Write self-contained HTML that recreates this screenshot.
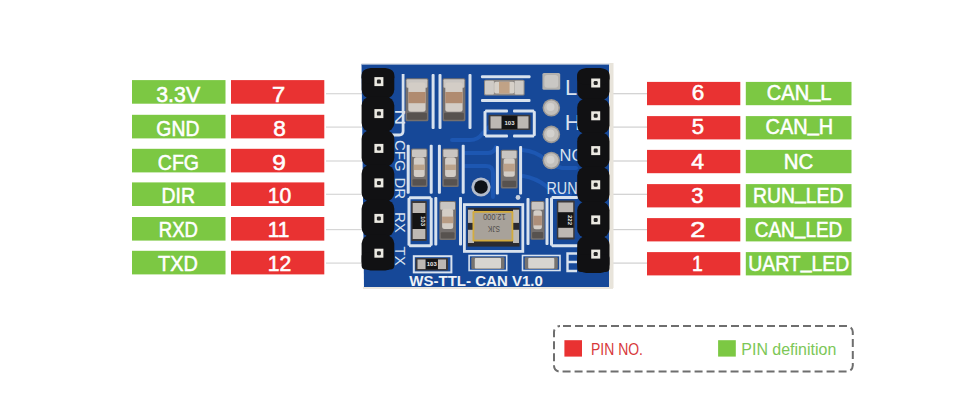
<!DOCTYPE html>
<html><head><meta charset="utf-8"><style>
html,body{margin:0;padding:0;background:#fff;width:960px;height:404px;overflow:hidden}
svg{display:block}
.lb{font-family:"Liberation Sans",sans-serif;font-size:21.4px;fill:#fff;stroke:#fff;stroke-width:0.55}
.lg{font-family:"Liberation Sans",sans-serif;font-size:16px}
.sk{font-family:"Liberation Sans",sans-serif;font-size:16.5px;fill:#d8e2ee}
.skL{font-family:"Liberation Sans",sans-serif;font-size:22px;fill:#d8e2ee}
.sk2{font-family:"Liberation Sans",sans-serif;font-size:15px;fill:#d8e2ee}
.rt{font-family:"Liberation Sans",sans-serif;font-size:6px;font-weight:bold;fill:#e8e8e8}
.xt{font-family:"Liberation Sans",sans-serif;font-size:9.5px;fill:#4f4c48}
.tt{font-family:"Liberation Sans",sans-serif;font-size:14.5px;font-weight:bold;fill:#eef2f7}
</style></head><body>
<svg width="960" height="404" viewBox="0 0 960 404">
<rect x="326" y="93.10" width="38" height="1.2" fill="#d6d6d6"/>
<rect x="132" y="80.10" width="93.50" height="23.6" fill="#7cc843"/>
<text x="156.26" y="101.90" textLength="43.86" lengthAdjust="spacingAndGlyphs" class="lb">3.3V</text>
<rect x="231" y="80.10" width="93.30" height="23.6" fill="#e93232"/>
<text x="272.05" y="101.90" textLength="13.21" lengthAdjust="spacingAndGlyphs" class="lb">7</text>
<rect x="326" y="126.50" width="38" height="1.2" fill="#d6d6d6"/>
<rect x="132" y="114.80" width="93.50" height="23.6" fill="#7cc843"/>
<text x="156.37" y="135.70" textLength="43.05" lengthAdjust="spacingAndGlyphs" class="lb">GND</text>
<rect x="231" y="114.80" width="93.30" height="23.6" fill="#e93232"/>
<text x="273.26" y="135.70" textLength="12.58" lengthAdjust="spacingAndGlyphs" class="lb">8</text>
<rect x="326" y="160.40" width="38" height="1.2" fill="#d6d6d6"/>
<rect x="132" y="148.80" width="93.50" height="23.6" fill="#7cc843"/>
<text x="157.84" y="169.50" textLength="41.21" lengthAdjust="spacingAndGlyphs" class="lb">CFG</text>
<rect x="231" y="148.80" width="93.30" height="23.6" fill="#e93232"/>
<text x="272.25" y="169.50" textLength="13.59" lengthAdjust="spacingAndGlyphs" class="lb">9</text>
<rect x="326" y="193.70" width="38" height="1.2" fill="#d6d6d6"/>
<rect x="132" y="182.40" width="93.50" height="23.6" fill="#7cc843"/>
<text x="161.51" y="203.30" textLength="33.40" lengthAdjust="spacingAndGlyphs" class="lb">DIR</text>
<rect x="231" y="182.40" width="93.30" height="23.6" fill="#e93232"/>
<text x="267.80" y="203.30" textLength="23.50" lengthAdjust="spacingAndGlyphs" class="lb">10</text>
<rect x="326" y="229.00" width="38" height="1.2" fill="#d6d6d6"/>
<rect x="132" y="217.00" width="93.50" height="23.6" fill="#7cc843"/>
<text x="158.81" y="237.10" textLength="39.12" lengthAdjust="spacingAndGlyphs" class="lb">RXD</text>
<rect x="231" y="217.00" width="93.30" height="23.6" fill="#e93232"/>
<text x="267.81" y="237.10" textLength="21.67" lengthAdjust="spacingAndGlyphs" class="lb">11</text>
<rect x="326" y="262.50" width="38" height="1.2" fill="#d6d6d6"/>
<rect x="132" y="250.80" width="93.50" height="23.6" fill="#7cc843"/>
<text x="158.09" y="270.90" textLength="39.83" lengthAdjust="spacingAndGlyphs" class="lb">TXD</text>
<rect x="231" y="250.80" width="93.30" height="23.6" fill="#e93232"/>
<text x="267.80" y="270.90" textLength="23.50" lengthAdjust="spacingAndGlyphs" class="lb">12</text>
<rect x="608" y="93.10" width="40" height="1.2" fill="#d0d0d0"/>
<rect x="647" y="81.90" width="93.30" height="23.3" fill="#e93232"/>
<text x="691.74" y="100.30" textLength="12.52" lengthAdjust="spacingAndGlyphs" class="lb">6</text>
<rect x="745.8" y="81.90" width="105.70" height="23.3" fill="#7cc843"/>
<text x="766.81" y="100.30" textLength="64.72" lengthAdjust="spacingAndGlyphs" class="lb">CAN<tspan dy="-3.2">_</tspan><tspan dy="3.2">L</tspan></text>
<rect x="608" y="126.50" width="40" height="1.2" fill="#d0d0d0"/>
<rect x="647" y="116.10" width="93.30" height="23.3" fill="#e93232"/>
<text x="691.85" y="134.40" textLength="12.31" lengthAdjust="spacingAndGlyphs" class="lb">5</text>
<rect x="745.8" y="116.10" width="105.70" height="23.3" fill="#7cc843"/>
<text x="765.59" y="134.40" textLength="67.53" lengthAdjust="spacingAndGlyphs" class="lb">CAN<tspan dy="-3.2">_</tspan><tspan dy="3.2">H</tspan></text>
<rect x="608" y="160.40" width="40" height="1.2" fill="#d0d0d0"/>
<rect x="647" y="149.90" width="93.30" height="23.3" fill="#e93232"/>
<text x="691.30" y="168.50" textLength="12.84" lengthAdjust="spacingAndGlyphs" class="lb">4</text>
<rect x="745.8" y="149.90" width="105.70" height="23.3" fill="#7cc843"/>
<text x="783.80" y="168.50" textLength="29.50" lengthAdjust="spacingAndGlyphs" class="lb">NC</text>
<rect x="608" y="193.70" width="40" height="1.2" fill="#d0d0d0"/>
<rect x="647" y="184.10" width="93.30" height="23.3" fill="#e93232"/>
<text x="691.36" y="202.60" textLength="12.31" lengthAdjust="spacingAndGlyphs" class="lb">3</text>
<rect x="745.8" y="184.10" width="105.70" height="23.3" fill="#7cc843"/>
<text x="752.97" y="202.60" textLength="90.55" lengthAdjust="spacingAndGlyphs" class="lb">RUN<tspan dy="-3.2">_</tspan><tspan dy="3.2">LED</tspan></text>
<rect x="608" y="229.00" width="40" height="1.2" fill="#d0d0d0"/>
<rect x="647" y="218.10" width="93.30" height="23.3" fill="#e93232"/>
<text x="690.20" y="236.70" textLength="15.07" lengthAdjust="spacingAndGlyphs" class="lb">2</text>
<rect x="745.8" y="218.10" width="105.70" height="23.3" fill="#7cc843"/>
<text x="754.77" y="236.70" textLength="87.55" lengthAdjust="spacingAndGlyphs" class="lb">CAN<tspan dy="-3.2">_</tspan><tspan dy="3.2">LED</tspan></text>
<rect x="608" y="262.50" width="40" height="1.2" fill="#d0d0d0"/>
<rect x="647" y="252.10" width="93.30" height="23.3" fill="#e93232"/>
<text x="692.09" y="270.80" textLength="10.83" lengthAdjust="spacingAndGlyphs" class="lb">1</text>
<rect x="745.8" y="252.10" width="105.70" height="23.3" fill="#7cc843"/>
<text x="748.19" y="270.80" textLength="101.11" lengthAdjust="spacingAndGlyphs" class="lb">UART<tspan dy="-3.2">_</tspan><tspan dy="3.2">LED</tspan></text>
<rect x="554" y="326" width="298.8" height="45.6" rx="6" ry="6" fill="none" stroke="#6e6e6e" stroke-width="2" stroke-dasharray="8 4" stroke-dashoffset="-3"/>
<rect x="564.4" y="340.2" width="17.6" height="16.4" fill="#e93232"/>
<rect x="718.1" y="340.2" width="17.7" height="16.4" fill="#7cc843"/>
<text x="591" y="354.8" textLength="52" lengthAdjust="spacingAndGlyphs" class="lg" fill="#d8393b">PIN NO.</text>
<text x="741.3" y="355" textLength="95" lengthAdjust="spacingAndGlyphs" class="lg" fill="#7cc756">PIN definition</text>
<g id="pcb">
<rect x="363" y="286.5" width="250" height="2.5" fill="#ebe7df"/>
<path d="M361.5,64 L609.5,64 L609.5,287 L364,287 Z" fill="#164898"/>
<rect x="609" y="63" width="4.5" height="225" fill="#e8e4db"/>
<rect x="361.5" y="63" width="248" height="1.6" fill="#e2e5ea"/>
<path d="M452,140 L470,140 Q478,140 482,134 L490,126" fill="none" stroke="#1d57b2" stroke-width="4" stroke-linejoin="round" stroke-linecap="round"/>
<path d="M398,196 L404,191" fill="none" stroke="#1d57b2" stroke-width="4" stroke-linejoin="round" stroke-linecap="round"/>
<path d="M465,153 L488,153 Q494,153 496,147" fill="none" stroke="#1d57b2" stroke-width="4" stroke-linejoin="round" stroke-linecap="round"/>
<path d="M465,166 L486,166 Q493,166 493,173 L493,197" fill="none" stroke="#1d57b2" stroke-width="4" stroke-linejoin="round" stroke-linecap="round"/>
<path d="M522,150 Q536,151 546,160 Q552,166 562,168 L576,168" fill="none" stroke="#1d57b2" stroke-width="4" stroke-linejoin="round" stroke-linecap="round"/>
<path d="M523,176 Q536,178 546,186 Q552,192 562,194 L570,194" fill="none" stroke="#1d57b2" stroke-width="4" stroke-linejoin="round" stroke-linecap="round"/>
<rect x="431.60" y="74" width="3" height="55" rx="1" fill="#d8e2ee"/>
<rect x="438.50" y="74" width="3" height="55" rx="1" fill="#d8e2ee"/>
<rect x="468.50" y="74" width="3" height="55" rx="1" fill="#d8e2ee"/>
<rect x="405.5" y="78.2" width="22.90" height="43.10" rx="1.5" fill="#75706e"/>
<rect x="406.50" y="79.20" width="20.90" height="8.62" rx="1" fill="#c9c5c1"/>
<rect x="407.00" y="112.68" width="19.90" height="7.12" rx="1" fill="#57524f"/>
<rect x="408.30" y="82.51" width="17.30" height="29.31" rx="2.5" fill="#d3cdc6"/>
<rect x="408.30" y="91.99" width="17.30" height="11.21" fill="#b08b70"/>
<rect x="442.5" y="78.2" width="22.90" height="43.10" rx="1.5" fill="#75706e"/>
<rect x="443.50" y="79.20" width="20.90" height="8.62" rx="1" fill="#c9c5c1"/>
<rect x="444.00" y="112.68" width="19.90" height="7.12" rx="1" fill="#57524f"/>
<rect x="445.30" y="82.51" width="17.30" height="29.31" rx="2.5" fill="#d3cdc6"/>
<rect x="445.30" y="91.99" width="17.30" height="11.21" fill="#b08b70"/>
<rect x="406.70" y="144.7" width="3" height="49.0" rx="1" fill="#d8e2ee"/>
<rect x="429.70" y="144.7" width="3" height="49.0" rx="1" fill="#d8e2ee"/>
<rect x="437.90" y="144.7" width="3" height="49.0" rx="1" fill="#d8e2ee"/>
<rect x="461.70" y="144.7" width="3" height="49.0" rx="1" fill="#d8e2ee"/>
<rect x="411" y="148.4" width="16.50" height="38.60" rx="1.5" fill="#75706e"/>
<rect x="412.00" y="149.40" width="14.50" height="7.72" rx="1" fill="#c9c5c1"/>
<rect x="412.50" y="179.28" width="13.50" height="6.22" rx="1" fill="#57524f"/>
<rect x="413.80" y="157.28" width="10.90" height="19.69" rx="2.5" fill="#d3cdc6"/>
<rect x="413.80" y="164.61" width="10.90" height="5.40" fill="#bba48c"/>
<rect x="442.3" y="148.4" width="16.40" height="38.60" rx="1.5" fill="#75706e"/>
<rect x="443.30" y="149.40" width="14.40" height="7.72" rx="1" fill="#c9c5c1"/>
<rect x="443.80" y="179.28" width="13.40" height="6.22" rx="1" fill="#57524f"/>
<rect x="445.10" y="157.28" width="10.80" height="19.69" rx="2.5" fill="#d3cdc6"/>
<rect x="445.10" y="164.61" width="10.80" height="5.40" fill="#bba48c"/>
<rect x="407.50" y="197.8" width="3" height="47.89999999999998" rx="1" fill="#d8e2ee"/>
<rect x="429.70" y="197.8" width="3" height="47.89999999999998" rx="1" fill="#d8e2ee"/>
<rect x="409" y="196.30" width="22.19999999999999" height="3" rx="1" fill="#d8e2ee"/>
<rect x="409" y="244.20" width="22.19999999999999" height="3" rx="1" fill="#d8e2ee"/>
<rect x="411.2" y="201" width="15.60" height="40.00" rx="1" fill="#3b393b"/>
<rect x="412.70" y="203.00" width="12.60" height="36.00" fill="#bdb8b3"/>
<rect x="412.20" y="213.00" width="13.60" height="16.00" fill="#141414"/>
<text transform="translate(421.0,221.0) rotate(90)" text-anchor="middle" class="rt">103</text>
<rect x="434.30" y="197" width="3" height="48.599999999999994" rx="1" fill="#d8e2ee"/>
<rect x="459.00" y="197" width="3" height="48.599999999999994" rx="1" fill="#d8e2ee"/>
<rect x="439.3" y="201" width="16.70" height="39.00" rx="1.5" fill="#75706e"/>
<rect x="440.30" y="202.00" width="14.70" height="7.80" rx="1" fill="#c9c5c1"/>
<rect x="440.80" y="232.20" width="13.70" height="6.30" rx="1" fill="#57524f"/>
<rect x="442.10" y="208.80" width="11.10" height="20.28" rx="2.5" fill="#d3cdc6"/>
<rect x="442.10" y="216.60" width="11.10" height="6.63" fill="#b89c84"/>
<rect x="464.4" y="204.6" width="58.4" height="46.8" fill="none" stroke="#d8e2ee" stroke-width="2.8"/>
<rect x="467.6" y="207.8" width="52" height="38.8" fill="#2b2b30"/>
<rect x="468" y="209.7" width="6" height="13.2" fill="#bdbab6"/><rect x="513" y="209.7" width="6" height="13.2" fill="#bdbab6"/>
<rect x="468" y="229.8" width="6" height="13.2" fill="#bdbab6"/><rect x="513" y="229.8" width="6" height="13.2" fill="#bdbab6"/>
<rect x="472.5" y="211" width="40.8" height="30.5" rx="1.2" fill="#d3ac3e"/>
<rect x="474.3" y="212.8" width="37.2" height="26.9" fill="#a8a29a"/>
<text transform="translate(505.7,214) rotate(180)" textLength="22.7" lengthAdjust="spacingAndGlyphs" class="xt">12.000</text>
<text transform="translate(500,226.3) rotate(180)" textLength="12" lengthAdjust="spacingAndGlyphs" class="xt">SJK</text>
<rect x="526.50" y="198" width="3" height="47" rx="1" fill="#d8e2ee"/>
<rect x="545.50" y="198" width="3" height="47" rx="1" fill="#d8e2ee"/>
<rect x="530.6" y="201" width="14.10" height="38.70" rx="1.5" fill="#75706e"/>
<rect x="531.60" y="202.00" width="12.10" height="7.74" rx="1" fill="#c9c5c1"/>
<rect x="532.10" y="231.96" width="11.10" height="6.24" rx="1" fill="#57524f"/>
<rect x="533.40" y="210.29" width="8.50" height="18.96" rx="2.5" fill="#d3cdc6"/>
<rect x="533.40" y="215.71" width="8.50" height="9.67" fill="#ad8f7a"/>
<rect x="550.00" y="197.5" width="3" height="48.19999999999999" rx="1" fill="#d8e2ee"/>
<rect x="551.5" y="196.00" width="26.5" height="3" rx="1" fill="#d8e2ee"/>
<rect x="551.5" y="244.20" width="26.5" height="3" rx="1" fill="#d8e2ee"/>
<rect x="556.8" y="200.5" width="17.90" height="39.00" rx="1" fill="#3b393b"/>
<rect x="558.30" y="202.50" width="14.90" height="35.00" fill="#bdb8b3"/>
<rect x="557.80" y="212.20" width="15.90" height="15.60" fill="#141414"/>
<text transform="translate(567.8,220.0) rotate(90)" text-anchor="middle" class="rt">222</text>
<rect x="413.8" y="256.2" width="37.6" height="16.2" fill="none" stroke="#d8e2ee" stroke-width="2"/>
<rect x="415.5" y="258" width="32.50" height="12.50" rx="1" fill="#3b393b"/>
<rect x="417.50" y="259.50" width="28.50" height="9.50" fill="#bdb8b3"/>
<rect x="425.57" y="259.00" width="12.35" height="10.50" fill="#141414"/>
<text x="431.8" y="266.4" text-anchor="middle" class="rt">103</text>
<rect x="469.1" y="255.5" width="37.6" height="15" fill="none" stroke="#d8e2ee" stroke-width="1.6"/>
<rect x="471.3" y="257.3" width="33.2" height="11.6" rx="1" fill="#77736f"/>
<rect x="474.8" y="258" width="26.2" height="10.6" rx="1" fill="#d8d5d0"/>
<rect x="522.5" y="255.5" width="37.5" height="15" fill="none" stroke="#d8e2ee" stroke-width="1.6"/>
<rect x="524.7" y="257.3" width="33.1" height="11.6" rx="1" fill="#77736f"/>
<rect x="528.2" y="258" width="26.1" height="10.6" rx="1" fill="#d8d5d0"/>
<rect x="481" y="75.30" width="49.5" height="3" rx="1" fill="#d8e2ee"/>
<rect x="481" y="99.10" width="49.5" height="3" rx="1" fill="#d8e2ee"/>
<rect x="484" y="79.8" width="40.60" height="15.80" rx="1.5" fill="#8d8884"/>
<rect x="485.00" y="80.80" width="8.93" height="13.80" rx="1" fill="#cfcbc6"/>
<rect x="514.67" y="80.80" width="8.93" height="13.80" rx="1" fill="#cfcbc6"/>
<rect x="494.15" y="81.80" width="20.30" height="11.80" rx="2" fill="#d6d0c8"/>
<rect x="499.02" y="81.80" width="10.56" height="11.80" fill="#c0a286"/>
<rect x="483.50" y="111" width="3" height="25" rx="1" fill="#d8e2ee"/>
<rect x="532.80" y="111" width="3" height="25" rx="1" fill="#d8e2ee"/>
<rect x="485" y="109.50" width="23" height="3" rx="1" fill="#d8e2ee"/>
<rect x="513" y="109.50" width="21.299999999999955" height="3" rx="1" fill="#d8e2ee"/>
<rect x="485" y="134.40" width="23" height="3" rx="1" fill="#d8e2ee"/>
<rect x="513" y="134.40" width="21.299999999999955" height="3" rx="1" fill="#d8e2ee"/>
<rect x="488.5" y="114.8" width="42.00" height="15.20" rx="1" fill="#3b393b"/>
<rect x="490.50" y="116.30" width="38.00" height="12.20" fill="#bdb8b3"/>
<rect x="501.52" y="115.80" width="15.96" height="13.20" fill="#141414"/>
<text x="509.5" y="124.6" text-anchor="middle" class="rt">103</text>
<rect x="542.4" y="72.9" width="17.8" height="16.8" rx="1.5" fill="#b3b1ae"/>
<rect x="544.4" y="74.9" width="13.8" height="12.8" rx="3" fill="#c9c7c4"/>
<circle cx="551.3" cy="107.8" r="8.8" fill="#9c9996"/><circle cx="551.3" cy="107.8" r="7.2" fill="#c3c0bc"/><circle cx="550.5" cy="107.0" r="4" fill="#d3d1ce"/>
<circle cx="551.3" cy="134.4" r="8.8" fill="#9c9996"/><circle cx="551.3" cy="134.4" r="7.2" fill="#c3c0bc"/><circle cx="550.5" cy="133.6" r="4" fill="#d3d1ce"/>
<circle cx="551.3" cy="160.5" r="8.8" fill="#9c9996"/><circle cx="551.3" cy="160.5" r="7.2" fill="#c3c0bc"/><circle cx="550.5" cy="159.7" r="4" fill="#d3d1ce"/>
<rect x="495.90" y="146" width="3" height="48.400000000000006" rx="1" fill="#d8e2ee"/>
<rect x="519.10" y="146" width="3" height="48.400000000000006" rx="1" fill="#d8e2ee"/>
<rect x="500.8" y="149.8" width="16.80" height="38.60" rx="1.5" fill="#75706e"/>
<rect x="501.80" y="150.80" width="14.80" height="7.72" rx="1" fill="#c9c5c1"/>
<rect x="502.30" y="180.68" width="13.80" height="6.22" rx="1" fill="#57524f"/>
<rect x="503.60" y="158.29" width="11.20" height="18.53" rx="2.5" fill="#d3cdc6"/>
<rect x="503.60" y="163.70" width="11.20" height="7.72" fill="#bba18a"/>
<circle cx="481" cy="187" r="9.6" fill="#b4bccb"/><circle cx="481" cy="187" r="6.8" fill="#0d1117"/>
<circle cx="518" cy="197.5" r="2.4" fill="#c6cfdc"/>
<text x="565" y="95" class="skL">L</text>
<text x="564.8" y="129.8" class="skL">H</text>
<text x="559.5" y="161" class="sk">NC</text>
<text x="546.5" y="193.5" textLength="31" lengthAdjust="spacingAndGlyphs" class="sk">RUN</text>
<text x="409.3" y="285.8" textLength="133.5" lengthAdjust="spacingAndGlyphs" class="tt">WS-TTL- CAN V1.0</text>
<text transform="translate(395.3,140) rotate(90)" class="sk2">CFG</text>
<text transform="translate(395.3,177.5) rotate(90)" class="sk2">DR</text>
<text transform="translate(395.3,212) rotate(90)" class="sk2">RX</text>
<text transform="translate(395.3,246.5) rotate(90)" class="sk2">TX</text>
<text transform="translate(395.3,109) rotate(90)" textLength="16.5" lengthAdjust="spacingAndGlyphs" class="sk2">N</text>
<path d="M577,253.5 L567.5,253.5 L567.5,271 L577,271 M567.5,262 L577,262" fill="none" stroke="#d8e2ee" stroke-width="2.4"/>
<path d="M403.1,74 L403.1,131 Q403.1,135 399.1,135 L389,135" fill="none" stroke="#d8e2ee" stroke-width="2.8"/>
<rect x="361.6" y="68.00" width="32.69999999999999" height="30.60" rx="9" fill="#111113"/>
<rect x="361.6" y="96.60" width="32.69999999999999" height="35.40" rx="9" fill="#111113"/>
<rect x="361.6" y="130.00" width="32.69999999999999" height="36.65" rx="9" fill="#111113"/>
<rect x="361.6" y="164.65" width="32.69999999999999" height="37.00" rx="9" fill="#111113"/>
<rect x="361.6" y="199.65" width="32.69999999999999" height="37.15" rx="9" fill="#111113"/>
<rect x="361.6" y="234.80" width="32.69999999999999" height="35.70" rx="9" fill="#111113"/>
<rect x="361.6" y="252.65" width="32.69999999999999" height="16.85" rx="4" fill="#111113"/>
<rect x="361.6" y="69.00" width="32.69999999999999" height="14.30" rx="6" fill="#111113"/>
<rect x="374.40" y="77.10" width="9" height="9" fill="#ebe9e2"/>
<rect x="376.90" y="79.60" width="4" height="4" rx="1.2" fill="#262626"/>
<rect x="374.40" y="109.10" width="9" height="9" fill="#ebe9e2"/>
<rect x="376.90" y="111.60" width="4" height="4" rx="1.2" fill="#262626"/>
<rect x="374.40" y="143.90" width="9" height="9" fill="#ebe9e2"/>
<rect x="376.90" y="146.40" width="4" height="4" rx="1.2" fill="#262626"/>
<rect x="374.40" y="178.40" width="9" height="9" fill="#ebe9e2"/>
<rect x="376.90" y="180.90" width="4" height="4" rx="1.2" fill="#262626"/>
<rect x="374.40" y="213.90" width="9" height="9" fill="#ebe9e2"/>
<rect x="376.90" y="216.40" width="4" height="4" rx="1.2" fill="#262626"/>
<rect x="374.40" y="248.70" width="9" height="9" fill="#ebe9e2"/>
<rect x="376.90" y="251.20" width="4" height="4" rx="1.2" fill="#262626"/>
<rect x="577.2" y="68.00" width="32.299999999999955" height="32.40" rx="9" fill="#111113"/>
<rect x="577.2" y="98.40" width="32.299999999999955" height="35.80" rx="9" fill="#111113"/>
<rect x="577.2" y="132.20" width="32.299999999999955" height="36.50" rx="9" fill="#111113"/>
<rect x="577.2" y="166.70" width="32.299999999999955" height="36.65" rx="9" fill="#111113"/>
<rect x="577.2" y="201.35" width="32.299999999999955" height="36.65" rx="9" fill="#111113"/>
<rect x="577.2" y="236.00" width="32.299999999999955" height="37.00" rx="9" fill="#111113"/>
<rect x="577.2" y="254.50" width="32.299999999999955" height="17.50" rx="4" fill="#111113"/>
<rect x="577.2" y="69.00" width="32.299999999999955" height="15.20" rx="6" fill="#111113"/>
<rect x="591.20" y="78.50" width="9" height="9" fill="#ebe9e2"/>
<rect x="593.70" y="81.00" width="4" height="4" rx="1.2" fill="#262626"/>
<rect x="591.20" y="111.30" width="9" height="9" fill="#ebe9e2"/>
<rect x="593.70" y="113.80" width="4" height="4" rx="1.2" fill="#262626"/>
<rect x="591.20" y="146.10" width="9" height="9" fill="#ebe9e2"/>
<rect x="593.70" y="148.60" width="4" height="4" rx="1.2" fill="#262626"/>
<rect x="591.20" y="180.30" width="9" height="9" fill="#ebe9e2"/>
<rect x="593.70" y="182.80" width="4" height="4" rx="1.2" fill="#262626"/>
<rect x="591.20" y="215.40" width="9" height="9" fill="#ebe9e2"/>
<rect x="593.70" y="217.90" width="4" height="4" rx="1.2" fill="#262626"/>
<rect x="591.20" y="249.60" width="9" height="9" fill="#ebe9e2"/>
<rect x="593.70" y="252.10" width="4" height="4" rx="1.2" fill="#262626"/>
</g>
</svg>
</body></html>
